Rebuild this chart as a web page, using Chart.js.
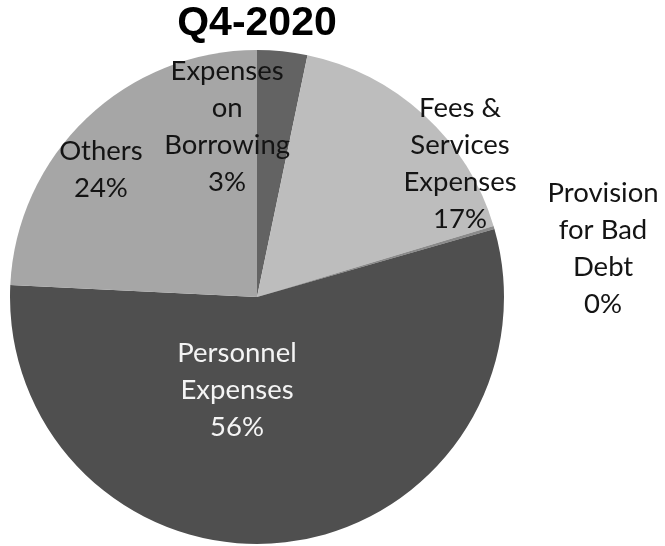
<!DOCTYPE html>
<html><head><meta charset="utf-8">
<script src="https://cdn.jsdelivr.net/npm/chart.js@4/dist/chart.umd.min.js"></script>
<style>html,body{margin:0;padding:0;background:#fff;} #wrap{width:665px;height:546px;position:relative}</style>
</head><body><div id="wrap"><canvas id="c" width="665" height="546"></canvas></div>
<script>
const titleText = "Q4-2020";
const categories = [
  ["Expenses", "on", "Borrowing"],
  ["Fees &", "Services", "Expenses"],
  ["Provision", "for Bad", "Debt"],
  ["Personnel", "Expenses"],
  ["Others"]
];
const values = [3.3, 17.2, 0.2, 55.6, 24.4];
const sliceColors = ["#636363", "#bdbdbd", "#8a8a8a", "#4f4f4f", "#a6a6a6"];
const labelColors = ["#141414", "#141414", "#141414", "#f4f4f4", "#141414"];
// label block anchors relative to the pie centre, in units of the outer radius
const labelOffsets = [[-0.121, -0.654], [0.822, -0.502], [1.401, -0.158], [-0.081, 0.415], [-0.632, -0.480]];
const labelFont = "27.5px Lato";
const labelLineHeight = 37;

const labelPlugin = {
  id: 'pieLabels',
  afterDatasetsDraw(chart) {
    const ctx = chart.ctx;
    const meta = chart.getDatasetMeta(0);
    ctx.save();
    ctx.font = labelFont;
    ctx.textAlign = 'center';
    ctx.textBaseline = 'alphabetic';
    meta.data.forEach((arc, i) => {
      const p = arc.getProps(['x', 'y', 'outerRadius'], true);
      const cx = p.x + labelOffsets[i][0] * p.outerRadius;
      const cy = p.y + labelOffsets[i][1] * p.outerRadius;
      const lines = categories[i].concat([Math.round(values[i]) + '%']);
      const n = lines.length;
      ctx.fillStyle = labelColors[i];
      lines.forEach((l, j) => {
        ctx.fillText(l, cx, cy + (j - (n - 1) / 2) * labelLineHeight);
      });
    });
    ctx.restore();
  }
};

new Chart(document.getElementById('c'), {
  type: 'pie',
  data: {
    labels: categories,
    datasets: [{
      data: values,
      backgroundColor: sliceColors,
      borderWidth: 0
    }]
  },
  options: {
    responsive: false,
    animation: false,
    layout: { padding: { top: 0, left: 10, right: 161, bottom: 2 } },
    plugins: {
      legend: { display: false },
      tooltip: { enabled: false },
      title: {
        display: true,
        text: titleText,
        color: '#000',
        font: { family: "'Liberation Sans', Arial, sans-serif", size: 41, weight: 'bold', lineHeight: 1.17 },
        padding: { top: 0, bottom: 2 }
      }
    }
  },
  plugins: [labelPlugin]
});
</script>
</body></html>
